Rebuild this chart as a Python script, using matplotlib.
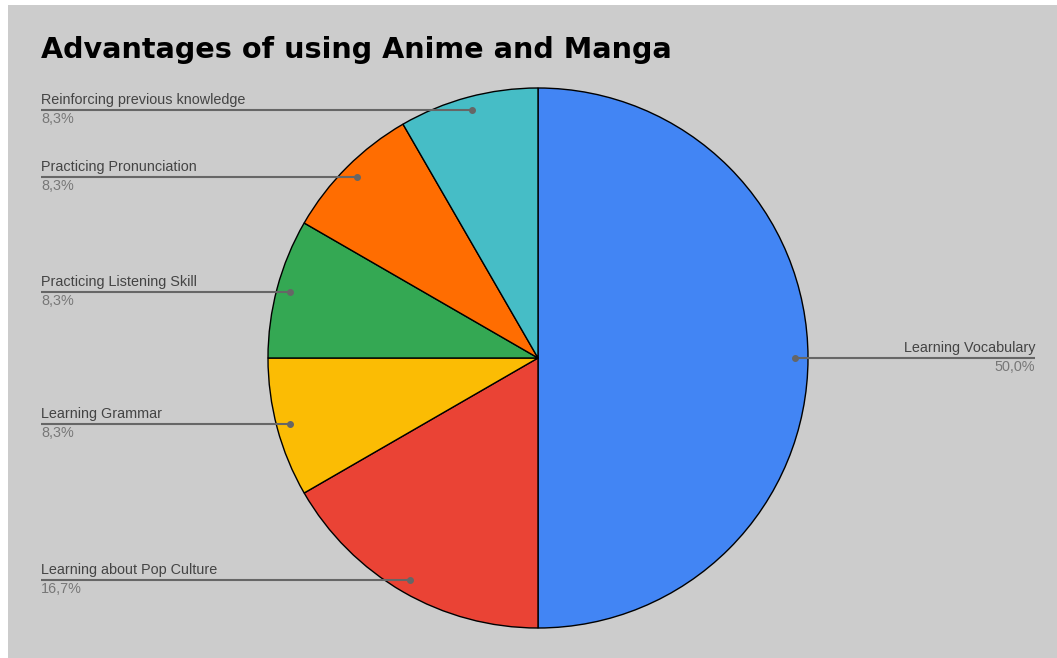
import numpy as np
import matplotlib
matplotlib.use("Agg")
from matplotlib import pyplot as plt
from matplotlib.patches import Rectangle

# data
labels = ["Learning Vocabulary", "Learning about Pop Culture", "Learning Grammar",
          "Practicing Listening Skill", "Practicing Pronunciation",
          "Reinforcing previous knowledge"]
values = [6, 2, 1, 1, 1, 1]
colors = ["#4285f4", "#ea4335", "#fbbc04", "#34a853", "#ff6d01", "#46bdc6"]

W, H = 1057, 658
fig = plt.figure(figsize=(W / 100, H / 100), dpi=100)
fig.patch.set_facecolor("white")
fig.patches.append(Rectangle((8 / W, 0), 1, 1 - 5 / H, transform=fig.transFigure,
                             facecolor="#cccccc", edgecolor="none", zorder=-10))

ax = fig.add_axes([0, 0, 1, 1])
ax.set_zorder(1)

cx, cy, r = 538, H - 358, 270
wedges, _ = ax.pie(values, colors=colors, startangle=90, counterclock=False,
                   center=(cx, cy), radius=r, frame=True,
                   wedgeprops=dict(edgecolor="black", linewidth=1.0))
ax.set_xlim(0, W)
ax.set_ylim(0, H)
ax.set_aspect("equal")
ax.axis("off")

total = sum(values)
for w, lab, v in zip(wedges, labels, values):
    ang = np.deg2rad((w.theta1 + w.theta2) / 2)
    px = cx + 0.95 * r * np.cos(ang)
    py = cy + 0.95 * r * np.sin(ang)
    pct = f"{100 * v / total:.1f}%".replace(".", ",")
    if px > cx:
        xe, ha = 1035, "right"
    else:
        xe, ha = 41, "left"
    ax.plot([px, xe], [py, py], color="#666666", lw=1.5, solid_capstyle="butt", zorder=5)
    ax.plot(px, py, "o", color="#666666", ms=4, zorder=6)
    ax.text(xe, py + 3, lab, ha=ha, va="bottom", fontsize=10.4,
            family="Liberation Sans", color="#444444")
    ax.text(xe, py - 2, pct, ha=ha, va="top", fontsize=10.4,
            family="Liberation Sans", color="#777777")

fig.text(41 / W, 1 - 50 / H, "Advantages of using Anime and Manga", ha="left",
         va="center", fontsize=20.6, fontweight="bold", family="DejaVu Sans",
         color="black", zorder=5)

fig.savefig("out.png", dpi=100, facecolor=fig.get_facecolor())
